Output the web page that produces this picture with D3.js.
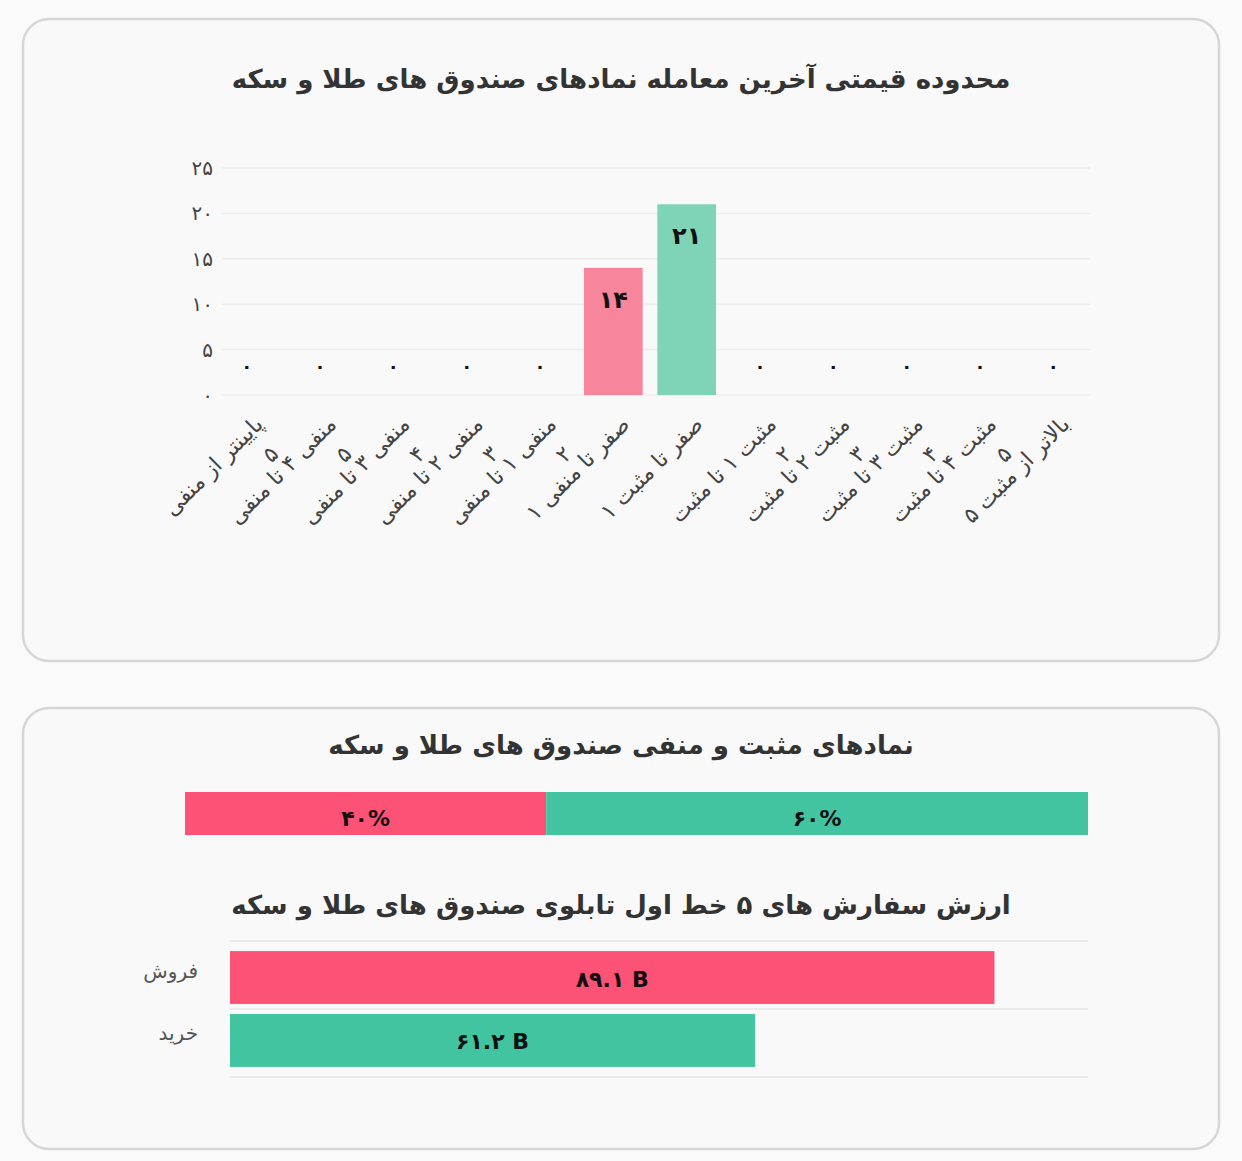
<!DOCTYPE html><html><head><meta charset="utf-8"><script src="https://cdn.jsdelivr.net/npm/d3@7"></script>
<style>body{margin:0;background:#fff;font-family:"DejaVu Sans","Noto Sans",sans-serif}</style></head><body>
<svg id="c" width="1242" height="1161"></svg>
<script>
const categories=[["پایینتر از منفی","۵"],["منفی ۴ تا منفی","۵"],["منفی ۳ تا منفی","۴"],["منفی ۲ تا منفی","۳"],["منفی ۱ تا منفی","۲"],["صفر تا منفی ۱",""],["صفر تا مثبت ۱",""],["مثبت ۱ تا مثبت","۲"],["مثبت ۲ تا مثبت","۳"],["مثبت ۳ تا مثبت","۴"],["مثبت ۴ تا مثبت","۵"],["بالاتر از مثبت ۵",""]];
const counts=[0,0,0,0,0,14,21,0,0,0,0,0];
const countLabels=["۰","۰","۰","۰","۰","۱۴","۲۱","۰","۰","۰","۰","۰"];
const yTicks=[0,5,10,15,20,25];
const yTickLabels=["۰","۵","۱۰","۱۵","۲۰","۲۵"];
const shareNames=["منفی","مثبت"];
const shares=[40,60];
const shareLabels=["۴۰%","۶۰%"];
const orderNames=["فروش","خرید"];
const orderValues=[89.1,61.2];
const orderLabels=["۸۹.۱ B","۶۱.۲ B"];
const svg=d3.select("#c");
svg.append("rect").attr("width",1242).attr("height",1161).attr("fill","#fafafa");
[[22,18,1198,644],[22,707,1198,443]].forEach(r=>svg.append("rect").attr("x",r[0]+1).attr("y",r[1]+1).attr("width",r[2]-2).attr("height",r[3]-2).attr("rx",26).attr("fill","#f9f9f9").attr("stroke","#d6d6d6").attr("stroke-width",2.5));
const T=(x,y,t,s,w,a)=>svg.append("text").attr("x",x).attr("y",y).text(t).attr("font-size",s).attr("font-weight",w||"normal").attr("text-anchor",a||"middle").attr("fill","#333");
T(621,88,"محدوده قیمتی آخرین معامله نمادهای صندوق های طلا و سکه",26,"bold");
const x=d3.scaleBand().domain(d3.range(12)).range([210,1090]).paddingInner(0.2).paddingOuter(0.1);
const y=d3.scaleLinear().domain([0,25]).range([395,168]);
const g=svg.append("g");
yTicks.forEach((t,i)=>{g.append("line").attr("x1",222).attr("x2",1090).attr("y1",y(t)).attr("y2",y(t)).attr("stroke","#ececec").attr("stroke-width",1.5);
 g.append("text").attr("x",213).attr("y",y(t)+7).attr("text-anchor","end").attr("font-size",20).attr("fill","#444").text(yTickLabels[i]);});
const colors=i=>i<6?"#f7859c":"#7fd4b8";
counts.forEach((v,i)=>{ if(v>0){g.append("rect").attr("x",x(i)).attr("y",y(v)).attr("width",x.bandwidth()).attr("height",y(0)-y(v)).attr("fill",colors(i));
 g.append("text").attr("x",x(i)+x.bandwidth()/2).attr("y",y(v)+40).attr("text-anchor","middle").attr("font-size",24).attr("font-weight","bold").attr("fill","#111").text(countLabels[i]);}
 else g.append("text").attr("x",x(i)+x.bandwidth()/2).attr("y",373).attr("text-anchor","middle").attr("font-size",18).attr("font-weight","bold").attr("fill","#111").text(countLabels[i]);
 const cx=x(i)+x.bandwidth()/2+12, cy=420;
 const t=g.append("text").attr("transform",`translate(${cx},${cy}) rotate(-45)`).attr("text-anchor","end").attr("font-size",22).attr("fill","#444");
 t.append("tspan").attr("x",0).attr("dy",8).text(categories[i][0]);
 if(categories[i][1]) t.append("tspan").attr("x",-10).attr("dy",32).text(categories[i][1]);
});
T(621,754,"نمادهای مثبت و منفی صندوق های طلا و سکه",26,"bold");
const xs=d3.scaleLinear().domain([0,100]).range([185,1088]);
let acc=0;["#fc5275","#42c4a0"].forEach((c,i)=>{svg.append("rect").attr("x",xs(acc)).attr("y",792).attr("width",xs(acc+shares[i])-xs(acc)).attr("height",43).attr("fill",c);
 T((xs(acc)+xs(acc+shares[i]))/2,826,shareLabels[i],22,"bold").attr("fill","#111");acc+=shares[i];});
T(621,914,"ارزش سفارش های ۵ خط اول تابلوی صندوق های طلا و سکه",26,"bold");
const xo=d3.scaleLinear().domain([0,100]).range([230,1088]);
const yo=d3.scaleBand().domain([0,1]).range([941,1077]).padding(0.16);
[941,1009,1077].forEach(v=>svg.append("line").attr("x1",230).attr("x2",1088).attr("y1",v).attr("y2",v).attr("stroke","#e6e6e6").attr("stroke-width",1.5));
orderValues.forEach((v,i)=>{svg.append("rect").attr("x",xo(0)).attr("y",yo(i)).attr("width",xo(v)-xo(0)).attr("height",yo.bandwidth()).attr("fill",["#fc5275","#42c4a0"][i]);
 T((xo(0)+xo(v))/2,yo(i)+yo.bandwidth()/2+9,orderLabels[i],22,"bold").attr("fill","#111");
 T(198,yo(i)+yo.bandwidth()/2,orderNames[i],20,"normal","end").attr("fill","#555");});
</script></body></html>
